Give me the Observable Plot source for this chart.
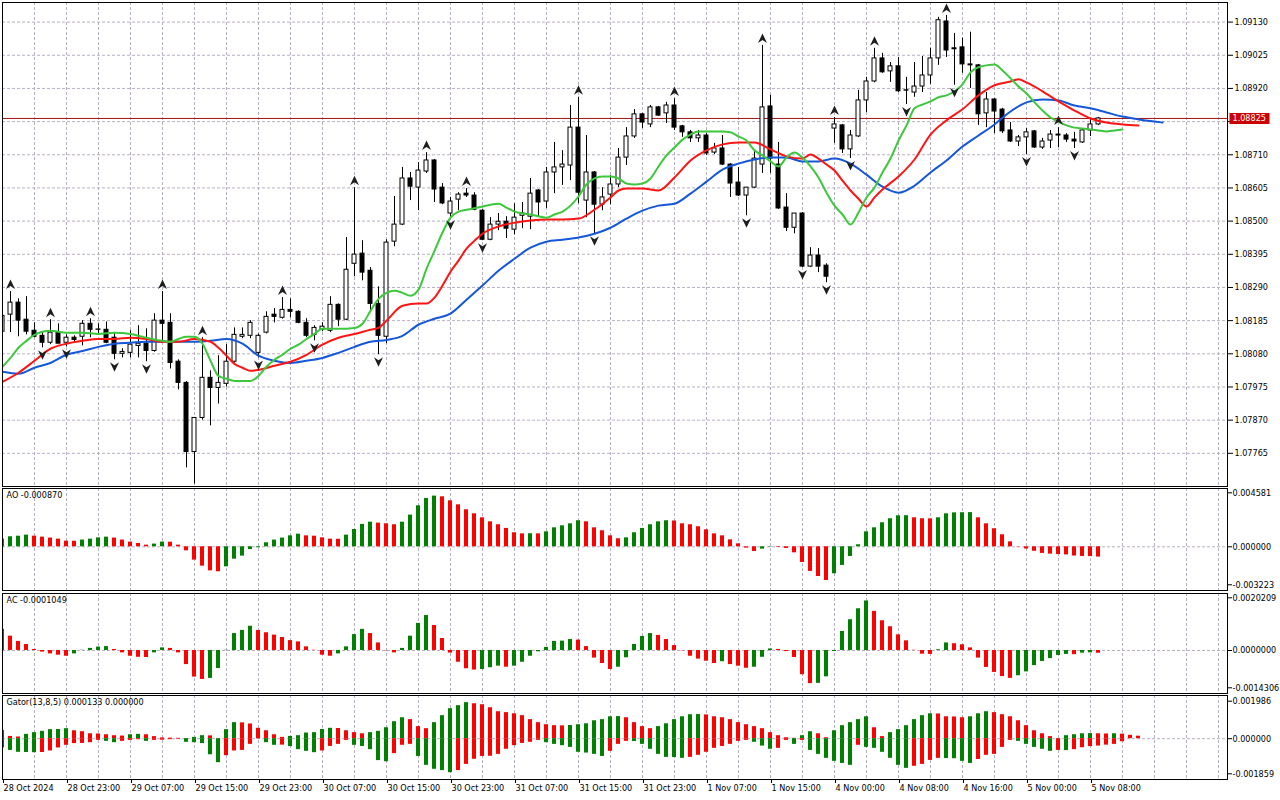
<!DOCTYPE html>
<html>
<head>
<meta charset="utf-8">
<title>EURUSD H1 – Alligator, Fractals, AO, AC, Gator</title>
<script src="https://cdn.jsdelivr.net/npm/d3@7"></script>
<script src="https://cdn.jsdelivr.net/npm/@observablehq/plot@0.6"></script>
<style>
  html, body { margin: 0; padding: 0; background: #ffffff; }
  #chart { position: relative; width: 1280px; height: 800px; overflow: hidden; background: #ffffff; }
  #chart > div { position: absolute; left: 0; }
  #chart svg { display: block; overflow: visible; }
</style>
</head>
<body>
<div id="chart"></div>
<script>
// ---------------- data ----------------
const xLabels = ["28 Oct 2024","28 Oct 23:00","29 Oct 07:00","29 Oct 15:00","29 Oct 23:00","30 Oct 07:00","30 Oct 15:00","30 Oct 23:00","31 Oct 07:00","31 Oct 15:00","31 Oct 23:00","1 Nov 07:00","1 Nov 15:00","4 Nov 00:00","4 Nov 08:00","4 Nov 16:00","5 Nov 00:00","5 Nov 08:00"];
const xLabelBars = [0,8,16,24,32,40,48,56,64,72,80,88,96,104,112,120,128,136];

const priceTicks = [1.09130,1.09025,1.08920,1.08815,1.08710,1.08605,1.08500,1.08395,1.08290,1.08185,1.08080,1.07975,1.07870,1.07765];
const aoTicks = [0.004581, 0, -0.003223];
const acTicks = [0.0020209, 0, -0.0014306];
const gatorTicks = [0.001986, 0, -0.001859];

const open = [1.08150,1.08204,1.08242,1.08188,1.08153,1.08137,1.08115,1.08147,1.08115,1.08131,
1.08134,1.08175,1.08156,1.08156,1.08131,1.08080,1.08083,1.08105,1.08112,1.08089,
1.08185,1.08178,1.08055,1.07988,1.07769,1.07877,1.08004,1.07972,1.07985,1.08055,
1.08134,1.08137,1.08083,1.08147,1.08204,1.08194,1.08219,1.08213,1.08178,1.08140,
1.08156,1.08153,1.08235,1.08188,1.08365,1.08397,1.08343,1.08238,1.08134,1.08435,
1.08489,1.08635,1.08606,1.08657,1.08692,1.08606,1.08524,1.08568,1.08587,1.08581,
1.08533,1.08441,1.08489,1.08498,1.08473,1.08517,1.08514,1.08597,1.08562,1.08654,
1.08670,1.08676,1.08796,1.08565,1.08654,1.08552,1.08584,1.08616,1.08701,1.08768,
1.08838,1.08806,1.08860,1.08841,1.08866,1.08800,1.08781,1.08762,1.08771,1.08717,
1.08730,1.08679,1.08622,1.08581,1.08606,1.08679,1.08863,1.08679,1.08543,1.08479,
1.08524,1.08356,1.08391,1.08359,1.08793,1.08803,1.08727,1.08768,1.08882,1.08942,
1.09015,1.08974,1.08990,1.08914,1.08907,1.08926,1.08961,1.09015,1.09132,1.09047,
1.09050,1.08996,1.08993,1.08841,1.08885,1.08853,1.08787,1.08752,1.08765,1.08784,
1.08733,1.08755,1.08774,1.08771,1.08758,1.08749,1.08787,1.08806];

const high = [1.08216,1.08277,1.08254,1.08261,1.08178,1.08150,1.08188,1.08175,1.08140,1.08137,
1.08185,1.08191,1.08175,1.08181,1.08147,1.08096,1.08153,1.08169,1.08159,1.08207,
1.08277,1.08207,1.08061,1.07992,1.07877,1.08131,1.08026,1.08074,1.08109,1.08162,
1.08162,1.08185,1.08143,1.08213,1.08223,1.08258,1.08254,1.08216,1.08191,1.08169,
1.08178,1.08261,1.08238,1.08448,1.08606,1.08438,1.08353,1.08292,1.08441,1.08578,
1.08670,1.08654,1.08685,1.08717,1.08695,1.08619,1.08575,1.08590,1.08603,1.08590,
1.08536,1.08511,1.08524,1.08514,1.08555,1.08559,1.08635,1.08600,1.08670,1.08749,
1.08723,1.08866,1.08892,1.08771,1.08657,1.08606,1.08644,1.08730,1.08796,1.08853,
1.08841,1.08866,1.08863,1.08876,1.08888,1.08803,1.08787,1.08787,1.08777,1.08746,
1.08771,1.08682,1.08670,1.08606,1.08720,1.09056,1.08898,1.08749,1.08587,1.08524,
1.08527,1.08416,1.08413,1.08365,1.08828,1.08806,1.08787,1.08914,1.08955,1.09047,
1.09031,1.09002,1.09018,1.08955,1.09002,1.09021,1.09047,1.09145,1.09151,1.09094,
1.09079,1.09098,1.08996,1.08907,1.08888,1.08857,1.08812,1.08771,1.08793,1.08787,
1.08762,1.08787,1.08796,1.08777,1.08781,1.08790,1.08825,1.08828];

const low = [1.08143,1.08147,1.08134,1.08140,1.08131,1.08099,1.08109,1.08112,1.08102,1.08115,
1.08105,1.08131,1.08140,1.08112,1.08061,1.08067,1.08067,1.08067,1.08055,1.08085,
1.08115,1.08032,1.07966,1.07719,1.07668,1.07870,1.07852,1.07921,1.07975,1.08051,
1.08128,1.08128,1.08067,1.08143,1.08178,1.08190,1.08194,1.08175,1.08131,1.08121,
1.08150,1.08147,1.08166,1.08185,1.08324,1.08311,1.08216,1.08077,1.08112,1.08419,
1.08486,1.08565,1.08533,1.08651,1.08559,1.08552,1.08511,1.08533,1.08575,1.08533,
1.08438,1.08438,1.08470,1.08445,1.08457,1.08476,1.08473,1.08514,1.08540,1.08587,
1.08613,1.08628,1.08555,1.08511,1.08460,1.08533,1.08552,1.08606,1.08676,1.08762,
1.08793,1.08796,1.08831,1.08809,1.08787,1.08765,1.08749,1.08749,1.08708,1.08711,
1.08676,1.08575,1.08578,1.08517,1.08603,1.08651,1.08651,1.08537,1.08467,1.08460,
1.08353,1.08353,1.08337,1.08305,1.08746,1.08714,1.08698,1.08765,1.08844,1.08938,
1.08968,1.08939,1.08907,1.08869,1.08892,1.08907,1.08933,1.08993,1.09018,1.08930,
1.08968,1.08920,1.08803,1.08796,1.08777,1.08777,1.08749,1.08736,1.08711,1.08730,
1.08727,1.08730,1.08733,1.08749,1.08730,1.08746,1.08768,1.08803];

const close = [1.08200,1.08242,1.08185,1.08150,1.08134,1.08115,1.08147,1.08112,1.08131,1.08124,
1.08175,1.08156,1.08157,1.08115,1.08080,1.08086,1.08109,1.08112,1.08089,1.08185,
1.08175,1.08051,1.07988,1.07769,1.07877,1.08004,1.07972,1.07988,1.08055,1.08140,
1.08140,1.08178,1.08137,1.08197,1.08197,1.08219,1.08213,1.08178,1.08137,1.08162,
1.08166,1.08235,1.08188,1.08346,1.08394,1.08337,1.08238,1.08137,1.08432,1.08489,
1.08635,1.08609,1.08660,1.08692,1.08600,1.08556,1.08562,1.08584,1.08581,1.08536,
1.08441,1.08489,1.08498,1.08476,1.08511,1.08524,1.08587,1.08559,1.08654,1.08670,
1.08679,1.08796,1.08590,1.08654,1.08552,1.08575,1.08616,1.08701,1.08768,1.08838,
1.08812,1.08860,1.08834,1.08866,1.08796,1.08781,1.08762,1.08771,1.08714,1.08730,
1.08679,1.08619,1.08581,1.08606,1.08698,1.08860,1.08698,1.08540,1.08479,1.08524,
1.08356,1.08391,1.08356,1.08324,1.08806,1.08727,1.08771,1.08882,1.08942,1.09015,
1.08971,1.08990,1.08911,1.08913,1.08926,1.08961,1.09015,1.09136,1.09040,1.09044,
1.08996,1.08993,1.08838,1.08885,1.08847,1.08784,1.08752,1.08765,1.08781,1.08733,
1.08752,1.08774,1.08771,1.08758,1.08752,1.08787,1.08806,1.08825];

const jawBar = [0,2,4,6,8,10,12,14,16,18,20,22,24,26,28,30,32,34,36,38,40,42,44,46,48,50,52,54,56,58,60,62,64,66,68,70,72,74,76,78,80,82,84,86,88,90,92,94,96,98,100,102,104,106,108,110,112,114,116,118,120,122,124,126,128,130,132,134,136,138,140,142,144,145];
const jawVal = [1.08023,1.08017,1.08036,1.08051,1.08077,1.08089,1.08102,1.08112,1.08115,1.08118,
1.08118,1.08118,1.08118,1.08121,1.08127,1.08112,1.08074,1.08058,1.08051,1.08058,
1.08067,1.08083,1.08102,1.08118,1.08124,1.08137,1.08172,1.08191,1.08207,1.08251,
1.08296,1.08343,1.08381,1.08416,1.08435,1.08441,1.08448,1.08460,1.08479,1.08508,
1.08533,1.08549,1.08555,1.08587,1.08625,1.08663,1.08682,1.08695,1.08701,1.08701,
1.08689,1.08689,1.08698,1.08682,1.08647,1.08609,1.08590,1.08612,1.08654,1.08692,
1.08736,1.08771,1.08806,1.08847,1.08876,1.08885,1.08882,1.08866,1.08857,1.08844,
1.08831,1.08822,1.08815,1.08812];

const teethBar = [0,2,4,6,8,10,12,14,16,18,20,22,24,26,27,28,29,30,31,32,34,36,38,40,42,44,46,47,48,50,52,53,54,55,56,57,58,59,60,62,64,66,68,70,72,74,76,77,78,80,82,84,86,88,90,92,94,96,98,100,101,102,103,104,105,106,107,108,109,110,112,114,116,118,120,122,124,126,127,128,130,132,134,136,138,140,142];
const teethVal = [1.07991,1.08020,1.08058,1.08096,1.08112,1.08121,1.08127,1.08127,1.08131,1.08127,
1.08118,1.08118,1.08127,1.08118,1.08099,1.08074,1.08048,1.08036,1.08026,1.08029,
1.08042,1.08055,1.08077,1.08109,1.08131,1.08143,1.08156,1.08162,1.08185,1.08232,
1.08239,1.08239,1.08258,1.08296,1.08340,1.08375,1.08413,1.08438,1.08460,1.08483,
1.08495,1.08502,1.08505,1.08505,1.08508,1.08536,1.08575,1.08597,1.08603,1.08603,
1.08597,1.08638,1.08692,1.08724,1.08743,1.08749,1.08749,1.08727,1.08705,1.08698,
1.08711,1.08698,1.08679,1.08660,1.08628,1.08597,1.08571,1.08546,1.08575,1.08600,
1.08641,1.08695,1.08774,1.08819,1.08854,1.08898,1.08930,1.08942,1.08949,1.08939,
1.08911,1.08879,1.08850,1.08825,1.08812,1.08806,1.08803];

const lipsBar = [0,1,2,3,4,6,8,10,12,14,16,18,20,21,22,23,24,25,26,27,28,29,30,31,32,33,34,35,36,37,38,39,40,42,44,45,46,47,48,49,50,51,52,53,54,55,56,57,58,60,61,62,63,64,66,68,69,70,71,72,73,74,75,76,77,78,79,80,81,82,83,84,85,86,87,88,90,91,92,93,94,95,96,97,98,99,100,101,102,103,104,105,106,107,108,109,110,111,112,113,114,115,116,117,118,119,120,121,122,123,124,125,126,127,128,129,130,131,132,133,134,135,136,137,138,139,140];
const lipsVal = [1.08039,1.08067,1.08099,1.08121,1.08140,1.08153,1.08147,1.08147,1.08143,1.08147,
1.08143,1.08131,1.08121,1.08118,1.08127,1.08134,1.08134,1.08112,1.08058,1.08010,
1.08001,1.07994,1.07994,1.07994,1.08010,1.08039,1.08061,1.08077,1.08096,1.08109,
1.08127,1.08143,1.08159,1.08159,1.08162,1.08175,1.08216,1.08254,1.08273,1.08280,
1.08273,1.08264,1.08283,1.08349,1.08406,1.08464,1.08511,1.08530,1.08536,1.08546,
1.08552,1.08555,1.08543,1.08530,1.08521,1.08511,1.08521,1.08530,1.08549,1.08578,
1.08616,1.08635,1.08641,1.08641,1.08635,1.08619,1.08616,1.08619,1.08635,1.08673,
1.08708,1.08733,1.08758,1.08774,1.08784,1.08784,1.08784,1.08781,1.08768,1.08755,
1.08724,1.08708,1.08689,1.08673,1.08701,1.08717,1.08701,1.08673,1.08638,1.08590,
1.08549,1.08521,1.08489,1.08527,1.08575,1.08606,1.08654,1.08698,1.08755,1.08803,
1.08857,1.08869,1.08879,1.08892,1.08898,1.08911,1.08933,1.08971,1.08987,1.08993,
1.08996,1.08977,1.08952,1.08926,1.08904,1.08876,1.08850,1.08828,1.08815,1.08803,
1.08796,1.08793,1.08790,1.08787,1.08784,1.08787,1.08790];

const upFractals = [1,6,11,20,25,35,44,53,58,72,84,95,104,109,118,132];
const downFractals = [5,8,14,18,24,32,39,47,56,60,74,93,100,103,106,113,119,128,134];

const ao = [0.00065,0.00085,0.00090,0.00099,0.00090,0.00082,0.00074,0.00065,0.00048,0.00047,
0.00057,0.00065,0.00076,0.00082,0.00074,0.00057,0.00040,0.00028,0.00014,0.00023,
0.00040,0.00039,0.00014,-0.00034,-0.00113,-0.00164,-0.00204,-0.00212,-0.00170,-0.00105,
-0.00079,-0.00023,-0.00008,0.00034,0.00057,0.00074,0.00093,0.00107,0.00093,0.00090,
0.00076,0.00065,0.00064,0.00099,0.00147,0.00190,0.00209,0.00201,0.00195,0.00187,
0.00209,0.00269,0.00348,0.00410,0.00430,0.00424,0.00390,0.00356,0.00314,0.00280,
0.00246,0.00212,0.00187,0.00156,0.00119,0.00110,0.00111,0.00110,0.00127,0.00161,
0.00178,0.00195,0.00221,0.00212,0.00161,0.00136,0.00093,0.00068,0.00076,0.00119,
0.00156,0.00187,0.00212,0.00221,0.00219,0.00195,0.00187,0.00170,0.00144,0.00110,
0.00093,0.00059,0.00025,-0.00011,-0.00040,-0.00020,-0.00003,-0.00005,-0.00014,-0.00051,
-0.00133,-0.00209,-0.00252,-0.00286,-0.00229,-0.00158,-0.00082,0.00017,0.00127,0.00161,
0.00204,0.00238,0.00263,0.00264,0.00246,0.00238,0.00237,0.00246,0.00280,0.00288,
0.00289,0.00290,0.00246,0.00195,0.00153,0.00102,0.00042,-0.00002,-0.00019,-0.00038,
-0.00056,-0.00062,-0.00066,-0.00069,-0.00078,-0.00082,-0.00083,-0.00087];

const ac = [0.00081,0.00055,0.00035,0.00023,0.00004,-0.00006,-0.00013,-0.00018,-0.00022,-0.00013,
0.00001,0.00008,0.00013,0.00015,0.00004,-0.00009,-0.00022,-0.00026,-0.00027,-0.00009,
0.00010,0.00008,-0.00009,-0.00054,-0.00102,-0.00111,-0.00107,-0.00069,0.00001,0.00065,
0.00077,0.00093,0.00077,0.00068,0.00059,0.00050,0.00038,0.00033,0.00014,0.00001,
-0.00018,-0.00022,-0.00013,0.00014,0.00061,0.00081,0.00065,0.00029,-0.00001,-0.00009,
0.00008,0.00055,0.00104,0.00134,0.00096,0.00046,-0.00010,-0.00045,-0.00070,-0.00075,
-0.00073,-0.00066,-0.00060,-0.00064,-0.00060,-0.00045,-0.00022,-0.00005,0.00012,0.00035,
0.00036,0.00042,0.00040,0.00015,-0.00029,-0.00050,-0.00073,-0.00064,-0.00028,0.00023,
0.00054,0.00065,0.00058,0.00042,0.00019,-0.00001,-0.00022,-0.00033,-0.00041,-0.00050,
-0.00043,-0.00054,-0.00060,-0.00068,-0.00064,-0.00026,0.00006,0.00004,-0.00004,-0.00027,
-0.00093,-0.00127,-0.00126,-0.00101,-0.00004,0.00073,0.00118,0.00160,0.00190,0.00150,
0.00114,0.00091,0.00060,0.00037,0.00001,-0.00014,-0.00015,0.00003,0.00029,0.00026,
0.00022,0.00010,-0.00029,-0.00065,-0.00084,-0.00100,-0.00107,-0.00097,-0.00082,-0.00058,
-0.00042,-0.00031,-0.00019,-0.00015,-0.00016,-0.00010,-0.00009,-0.0001049];

const gatorUpper = [0.00044,0.00012,0.00009,0.00023,0.00032,0.00039,0.00048,0.00049,0.00053,0.00042,
0.00037,0.00026,0.00025,0.00021,0.00016,0.00014,0.00021,0.00023,0.00021,0.00011,
0.00004,0.00003,0.00002,0.00001,0.00007,0.00016,0.00015,0.00001,0.00048,0.00085,
0.00084,0.00078,0.00055,0.00042,0.00021,0.00007,0.00012,0.00016,0.00030,0.00032,
0.00049,0.00055,0.00054,0.00042,0.00032,0.00026,0.00032,0.00039,0.00058,0.00090,
0.00111,0.00101,0.00064,0.00053,0.00085,0.00122,0.00159,0.00175,0.00191,0.00185,
0.00180,0.00164,0.00143,0.00138,0.00132,0.00122,0.00101,0.00085,0.00074,0.00069,
0.00068,0.00070,0.00074,0.00079,0.00095,0.00101,0.00116,0.00117,0.00111,0.00085,
0.00064,0.00053,0.00064,0.00079,0.00101,0.00116,0.00127,0.00128,0.00126,0.00116,
0.00111,0.00101,0.00085,0.00074,0.00064,0.00053,0.00032,0.00016,0.00005,0.00002,
0.00016,0.00037,0.00026,0.00005,0.00042,0.00069,0.00085,0.00101,0.00116,0.00058,
0.00011,0.00032,0.00048,0.00069,0.00101,0.00122,0.00132,0.00131,0.00116,0.00115,
0.00111,0.00116,0.00132,0.00143,0.00138,0.00127,0.00116,0.00095,0.00069,0.00042,
0.00026,0.00011,0.00001,0.00016,0.00021,0.00026,0.00027,0.00026,0.00025,0.00026,
0.00024,0.00018,0.000133];

const gatorLower = [-0.00049,-0.00062,-0.00072,-0.00073,-0.00074,-0.00073,-0.00065,-0.00049,-0.00035,-0.00026,
-0.00025,-0.00021,-0.00009,-0.00014,-0.00021,-0.00014,-0.00009,-0.00005,-0.00014,-0.00009,
-0.00008,-0.00005,-0.00003,-0.00019,-0.00021,-0.00026,-0.00085,-0.00127,-0.00090,-0.00065,
-0.00062,-0.00030,-0.00001,-0.00021,-0.00035,-0.00034,-0.00042,-0.00058,-0.00067,-0.00074,
-0.00065,-0.00041,-0.00030,-0.00009,-0.00035,-0.00041,-0.00058,-0.00116,-0.00122,-0.00079,
-0.00035,-0.00030,-0.00094,-0.00141,-0.00162,-0.00169,-0.00180,-0.00169,-0.00136,-0.00109,
-0.00094,-0.00093,-0.00083,-0.00056,-0.00037,-0.00025,-0.00019,-0.00009,-0.00021,-0.00030,
-0.00037,-0.00046,-0.00072,-0.00076,-0.00083,-0.00094,-0.00067,-0.00030,-0.00014,-0.00015,
-0.00030,-0.00056,-0.00083,-0.00099,-0.00100,-0.00104,-0.00099,-0.00088,-0.00072,-0.00051,
-0.00041,-0.00030,-0.00014,-0.00009,-0.00019,-0.00039,-0.00056,-0.00051,-0.00009,-0.00030,
-0.00009,-0.00062,-0.00083,-0.00104,-0.00120,-0.00131,-0.00141,-0.00035,-0.00046,-0.00051,
-0.00072,-0.00104,-0.00141,-0.00157,-0.00146,-0.00136,-0.00115,-0.00104,-0.00105,-0.00106,
-0.00120,-0.00131,-0.00110,-0.00088,-0.00083,-0.00046,-0.00009,-0.00014,-0.00030,-0.00046,
-0.00056,-0.00067,-0.00062,-0.00063,-0.00058,-0.00048,-0.00042,-0.00039,-0.00034,-0.00030,
-0.00016];

// ---------------- styling ----------------
const FONT = '"DejaVu Sans Condensed", "DejaVu Sans", "Liberation Sans Narrow", sans-serif';
const GRID = "#b8aec4";
const DASH = "3,2";
const UP = "#008000", DOWN = "#ff0000";
const JAW = "#1457d8", TEETH = "#ff1414", LIPS = "#3cc83c";
const XDOMAIN = [0, 153.125];          // visible bar range
const vGrid = d3.range(4, 153, 4);     // vertical grid every 4 bars

const candles = open.map((o, i) => ({i, o, h: high[i], l: low[i], c: close[i]}));
const toRows = (bars, vals) => bars.map((b, k) => ({i: b, v: vals[k]}));
const jaw = toRows(jawBar, jawVal);
const teeth = toRows(teethBar, teethVal);
const lips = toRows(lipsBar, lipsVal);
const upF = upFractals.map(i => ({i, h: high[i]}));
const downF = downFractals.map(i => ({i, l: low[i]}));
const lastClose = close[close.length - 1];
// the price level hidden behind the current-price box keeps its grid line but not its label
const priceLabelTicks = priceTicks.filter(t => Math.abs(t - lastClose) > 0.0002);

function histRows(vals, firstUp, useAbs) {
  return vals.map((v, i) => {
    const up = i === 0 ? firstUp : (useAbs ? Math.abs(v) > Math.abs(vals[i - 1]) : v > vals[i - 1]);
    return {i, v, up};
  });
}

const paneStyle = () => ({fontFamily: FONT, fontSize: "9px", fontStretch: "condensed", color: "#000", background: "transparent", overflow: "visible"});

function place(el, top) {
  const d = document.createElement("div");
  d.style.top = top + "px";
  d.appendChild(el);
  document.getElementById("chart").appendChild(d);
}

const upArrow = {draw(c) { c.moveTo(0, -5); c.lineTo(4.5, 4.5); c.lineTo(0, 1.5); c.lineTo(-4.5, 4.5); c.closePath(); }};
const downArrow = {draw(c) { c.moveTo(0, 5); c.lineTo(4.5, -4.5); c.lineTo(0, -1.5); c.lineTo(-4.5, -4.5); c.closePath(); }};
const priceBox = {draw(c) { c.moveTo(-20, -5.5); c.lineTo(20, -5.5); c.lineTo(20, 5.5); c.lineTo(-20, 5.5); c.closePath(); }};

// ---------------- main price pane ----------------
const mainPlot = Plot.plot({
  width: 1280, height: 487, marginLeft: 2, marginRight: 53, marginTop: 2, marginBottom: 1,
  style: paneStyle(),
  x: {domain: XDOMAIN, axis: null},
  y: {domain: [1.07660, 1.09192]},
  marks: [
    Plot.ruleY(priceTicks, {stroke: GRID, strokeDasharray: DASH}),
    Plot.ruleX(vGrid, {stroke: GRID, strokeDasharray: DASH}),
    Plot.ruleY([lastClose], {stroke: "#a01212", strokeWidth: 1}),
    Plot.ruleX(candles, {x: "i", y1: "l", y2: "h", stroke: "#000", strokeWidth: 1, clip: true}),
    Plot.rect(candles, {x1: d => d.i - 0.25, x2: d => d.i + 0.25, y1: "o", y2: "c",
      fill: d => d.c >= d.o ? "#ffffff" : "#000000", stroke: "#000", strokeWidth: 1, clip: true}),
    Plot.line(jaw, {x: "i", y: "v", stroke: JAW, strokeWidth: 2, curve: "monotone-x", clip: true}),
    Plot.line(teeth, {x: "i", y: "v", stroke: TEETH, strokeWidth: 2, curve: "monotone-x", clip: true}),
    Plot.line(lips, {x: "i", y: "v", stroke: LIPS, strokeWidth: 2, curve: "monotone-x", clip: true}),
    Plot.dot(upF, {x: "i", y: "h", dy: -7, symbol: upArrow, r: 4, fill: "#1e1e1e", stroke: "none", clip: true}),
    Plot.dot(downF, {x: "i", y: "l", dy: 7, symbol: downArrow, r: 4, fill: "#1e1e1e", stroke: "none", clip: true}),
    Plot.frame({stroke: "#000"}),
    Plot.axisY({anchor: "right", ticks: priceTicks, tickFormat: () => "", tickSize: 5, label: null}),
    Plot.axisY({anchor: "right", ticks: priceLabelTicks, tickFormat: d3.format(".5f"), tickSize: 0, tickPadding: 7, label: null}),
    Plot.dot([lastClose], {y: d => d, frameAnchor: "right", dx: 22, symbol: priceBox, r: 5, fill: "#cc0000", stroke: "none"}),
    Plot.text([lastClose], {y: d => d, frameAnchor: "right", dx: 5, textAnchor: "start", text: d => d.toFixed(5), fill: "#ffffff"})
  ]
});
place(mainPlot, 0);

// ---------------- histogram panes ----------------
function histPane({height, mt, mb, domain, series, ticks, fmt, label, xAxis}) {
  const marks = [
    Plot.ruleX(vGrid, {stroke: GRID, strokeDasharray: DASH}),
    Plot.ruleY([0], {stroke: GRID, strokeDasharray: DASH}),
    ...series.map(rows => Plot.rect(rows, {x1: d => d.i - 0.25, x2: d => d.i + 0.25, y1: () => 0, y2: "v",
      fill: d => d.up ? UP : DOWN, clip: true})),
    Plot.frame({stroke: "#000"}),
    Plot.axisY({anchor: "right", ticks, tickFormat: fmt, tickSize: 4, tickPadding: 1, label: null}),
    Plot.text([label], {frameAnchor: "top-left", dx: 4, dy: 3, textAnchor: "start", lineAnchor: "top", text: d => d, fill: "#000"})
  ];
  if (xAxis) {
    marks.push(Plot.axisX({ticks: xLabelBars, tickFormat: d => xLabels[xLabelBars.indexOf(d)],
      tickSize: 4, tickPadding: 1, textAnchor: "start", dx: 1, label: null}));
  }
  return Plot.plot({
    width: 1280, height, marginLeft: 2, marginRight: 53, marginTop: mt, marginBottom: mb,
    style: paneStyle(),
    x: xAxis ? {domain: XDOMAIN} : {domain: XDOMAIN, axis: null},
    y: {domain},
    marks
  });
}

place(histPane({
  height: 104, mt: 1, mb: 1, domain: [-0.003707, 0.004946],
  series: [histRows(ao, true, false)], ticks: aoTicks, fmt: d => d.toFixed(6),
  label: `AO ${ao[ao.length - 1].toFixed(6)}`
}), 487);

place(histPane({
  height: 102, mt: 1, mb: 1, domain: [-0.001649, 0.002186],
  series: [histRows(ac, false, false)], ticks: acTicks, fmt: d => d.toFixed(7),
  label: `AC ${ac[ac.length - 1].toFixed(7)}`
}), 592);

place(histPane({
  height: 106, mt: 1, mb: 21, domain: [-0.002161, 0.002288],
  series: [histRows(gatorUpper, false, true), histRows(gatorLower, true, true)],
  ticks: gatorTicks, fmt: d => d.toFixed(6),
  label: `Gator(13,8,5) ${gatorUpper[gatorUpper.length - 1].toFixed(6)} ${(gatorLower[gatorUpper.length - 1] ?? 0).toFixed(6)}`,
  xAxis: true
}), 694);
</script>
</body>
</html>
